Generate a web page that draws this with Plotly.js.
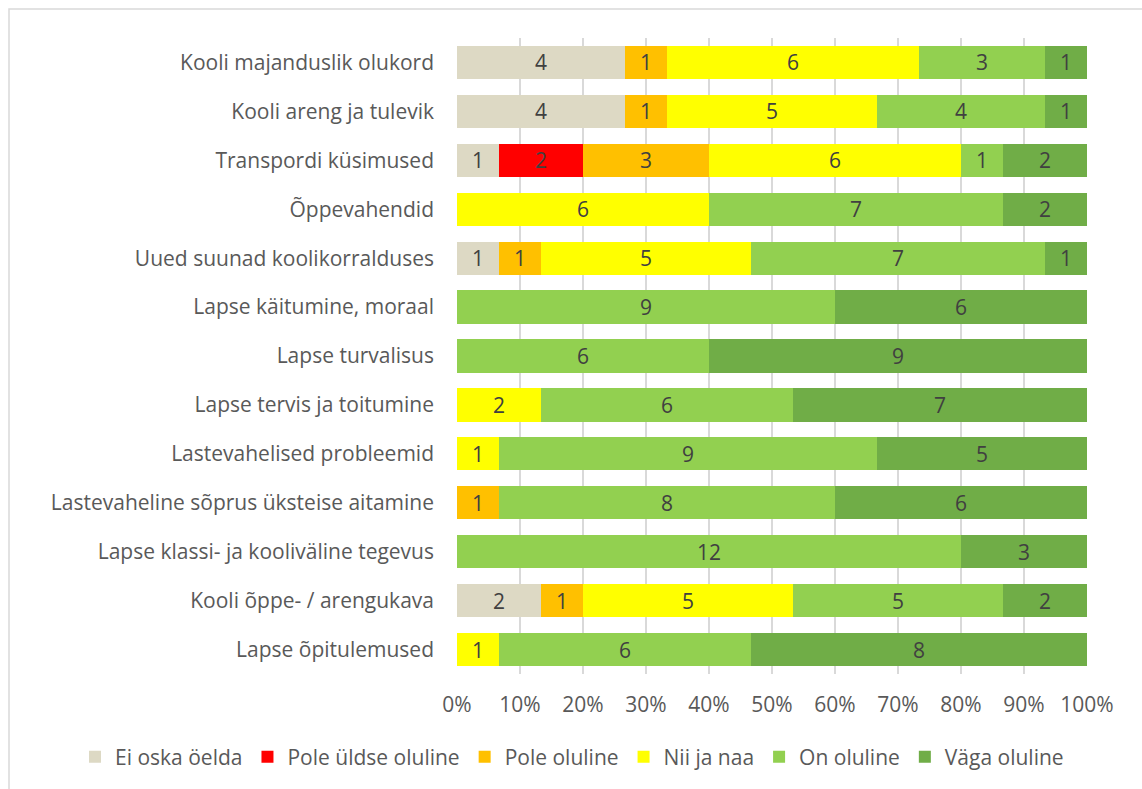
<!DOCTYPE html>
<html>
<head>
<meta charset="utf-8">
<script src="https://cdn.plot.ly/plotly-3.0.1.min.js"></script>
<style>
html,body{margin:0;padding:0;background:#fff;overflow:hidden;}
#chart{width:1142px;height:789px;}
</style>
</head>
<body>
<div id="chart"></div>
<script>
const categories = [
  "Kooli majanduslik olukord",
  "Kooli areng ja tulevik",
  "Transpordi küsimused",
  "Õppevahendid",
  "Uued suunad koolikorralduses",
  "Lapse käitumine, moraal",
  "Lapse turvalisus",
  "Lapse tervis ja toitumine",
  "Lastevahelised probleemid",
  "Lastevaheline sõprus üksteise aitamine",
  "Lapse klassi- ja kooliväline tegevus",
  "Kooli õppe- / arengukava",
  "Lapse õpitulemused"
];
const seriesNames = ["Ei oska öelda","Pole üldse oluline","Pole oluline","Nii ja naa","On oluline","Väga oluline"];
const eiOskaOelda      = [4,4,1,0,1,0,0,0,0,0,0,2,0];
const poleUldseOluline = [0,0,2,0,0,0,0,0,0,0,0,0,0];
const poleOluline      = [1,1,3,0,1,0,0,0,0,1,0,1,0];
const niiJaNaa         = [6,5,6,6,5,0,0,2,1,0,0,5,1];
const onOluline        = [3,4,1,7,7,9,6,6,9,8,12,5,6];
const vagaOluline      = [1,1,2,2,1,6,9,7,5,6,3,2,8];
const seriesValues = [eiOskaOelda, poleUldseOluline, poleOluline, niiJaNaa, onOluline, vagaOluline];
const colors = ["#DDD9C4","#FF0000","#FFC000","#FFFF00","#92D050","#70AD47"];
const xTickVals = [0,10,20,30,40,50,60,70,80,90,100];
const xTickText = ["0%","10%","20%","30%","40%","50%","60%","70%","80%","90%","100%"];

const FONT = "'Open Sans', Lato, sans-serif";
const FS = 21;

const traces = seriesValues.map((vals, i) => ({
  type: "bar",
  orientation: "h",
  name: seriesNames[i],
  y: categories,
  x: vals.map(v => v === 0 ? null : v),
  text: vals.map(v => v === 0 ? "" : String(v)),
  texttemplate: "%{text}",
  textposition: "inside",
  insidetextanchor: "middle",
  textangle: 0,
  constraintext: "none",
  textfont: {family: FONT, size: FS, color: "#404040"},
  marker: {color: colors[i], line: {width: 0}},
  hoverinfo: "skip"
}));

const L = 457, R = 55, T = 38, B = 115, W = 1142, H = 789;
const pw = W - L - R, ph = H - T - B;

const layout = {
  width: W, height: H,
  margin: {l: L, r: R, t: T, b: B, pad: 0},
  barmode: "stack",
  barnorm: "percent",
  bargap: 0.32,
  paper_bgcolor: "#ffffff",
  plot_bgcolor: "#ffffff",
  font: {family: FONT, size: FS, color: "#595959"},
  showlegend: true,
  legend: {
    orientation: "h",
    x: (75 - L) / pw, xanchor: "left",
    y: (T + ph - 757) / ph, yanchor: "middle",
    font: {family: FONT, size: FS, color: "#595959"},
    traceorder: "normal",
    itemwidth: 30,
    itemclick: false, itemdoubleclick: false
  },
  xaxis: {
    range: [0, 100],
    tickvals: xTickVals,
    ticktext: xTickText,
    showgrid: true,
    gridcolor: "#D9D9D9",
    gridwidth: 1.5,
    zeroline: false,
    showline: false,
    ticks: "",
    ticklabelstandoff: 16,
    tickfont: {family: FONT, size: FS, color: "#595959"},
    fixedrange: true
  },
  yaxis: {
    type: "category",
    categoryorder: "array",
    categoryarray: categories,
    autorange: "reversed",
    showgrid: false,
    zeroline: false,
    showline: false,
    ticks: "",
    ticklabelstandoff: 22,
    tickfont: {family: FONT, size: FS, color: "#595959"},
    fixedrange: true
  },
  shapes: [{
    type: "rect",
    xref: "paper", yref: "paper",
    x0: (9 - L) / pw, x1: (W + 20 - L) / pw,
    y0: (T + ph - (H + 20)) / ph, y1: (T + ph - 9) / ph,
    line: {color: "#D9D9D9", width: 1.5},
    fillcolor: "rgba(0,0,0,0)",
    layer: "below"
  }]
};

Plotly.newPlot("chart", traces, layout, {displayModeBar: false, staticPlot: true});
</script>
</body>
</html>
